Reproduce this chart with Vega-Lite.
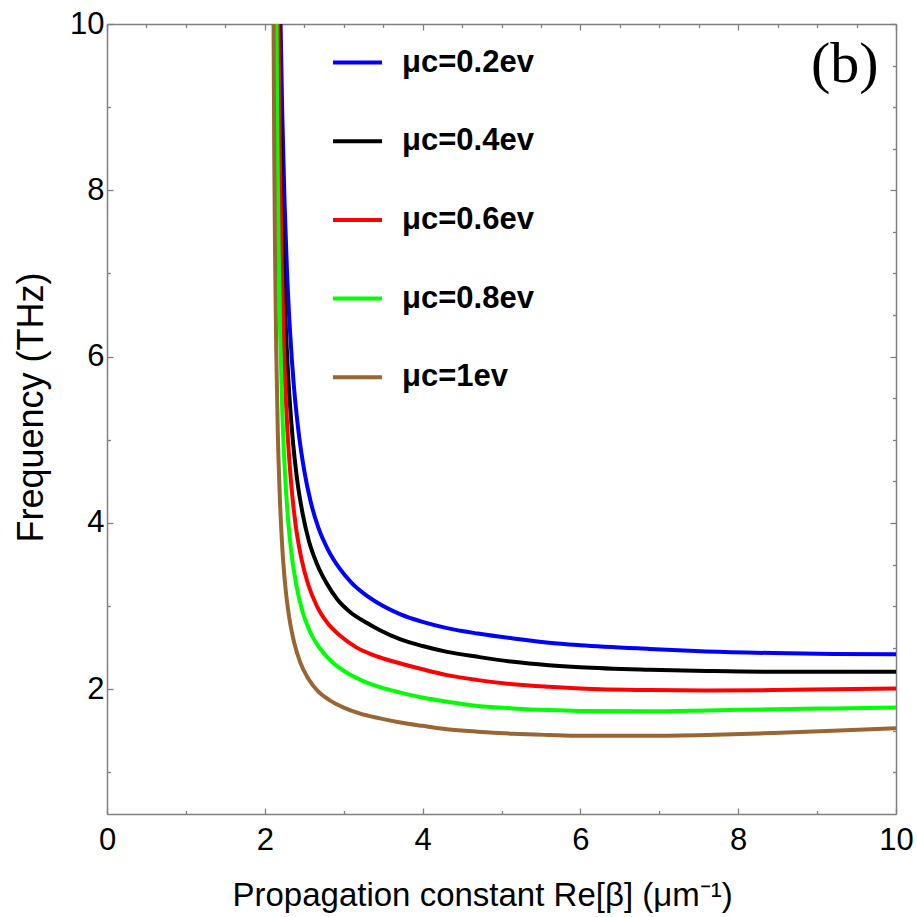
{
  "$schema": "https://vega.github.io/schema/vega-lite/v6.json",
  "width": 789,
  "height": 790,
  "autosize": {"type": "none"},
  "padding": {"left": 107, "top": 24, "right": 21, "bottom": 103},
  "background": "white",
  "config": {
    "view": {"stroke": null},
    "font": "Liberation Sans"
  },
  "datasets": {
    "curves": [
      {"s": "μc=0.2ev", "x": 2.200, "y": 10.0},
      {"s": "μc=0.2ev", "x": 2.220, "y": 8.97},
      {"s": "μc=0.2ev", "x": 2.250, "y": 7.86},
      {"s": "μc=0.2ev", "x": 2.280, "y": 7.06},
      {"s": "μc=0.2ev", "x": 2.320, "y": 6.30},
      {"s": "μc=0.2ev", "x": 2.370, "y": 5.63},
      {"s": "μc=0.2ev", "x": 2.430, "y": 5.08},
      {"s": "μc=0.2ev", "x": 2.500, "y": 4.63},
      {"s": "μc=0.2ev", "x": 2.580, "y": 4.26},
      {"s": "μc=0.2ev", "x": 2.680, "y": 3.94},
      {"s": "μc=0.2ev", "x": 2.800, "y": 3.68},
      {"s": "μc=0.2ev", "x": 2.950, "y": 3.45},
      {"s": "μc=0.2ev", "x": 3.100, "y": 3.28},
      {"s": "μc=0.2ev", "x": 3.300, "y": 3.12},
      {"s": "μc=0.2ev", "x": 3.500, "y": 3.00},
      {"s": "μc=0.2ev", "x": 3.720, "y": 2.90},
      {"s": "μc=0.2ev", "x": 4.000, "y": 2.81},
      {"s": "μc=0.2ev", "x": 4.310, "y": 2.735},
      {"s": "μc=0.2ev", "x": 4.700, "y": 2.67},
      {"s": "μc=0.2ev", "x": 5.150, "y": 2.61},
      {"s": "μc=0.2ev", "x": 5.600, "y": 2.56},
      {"s": "μc=0.2ev", "x": 6.000, "y": 2.53},
      {"s": "μc=0.2ev", "x": 6.880, "y": 2.485},
      {"s": "μc=0.2ev", "x": 7.600, "y": 2.455},
      {"s": "μc=0.2ev", "x": 8.450, "y": 2.435},
      {"s": "μc=0.2ev", "x": 9.200, "y": 2.425},
      {"s": "μc=0.2ev", "x": 10.00, "y": 2.42},

      {"s": "μc=0.4ev", "x": 2.180, "y": 10.0},
      {"s": "μc=0.4ev", "x": 2.200, "y": 8.69},
      {"s": "μc=0.4ev", "x": 2.230, "y": 7.37},
      {"s": "μc=0.4ev", "x": 2.260, "y": 6.50},
      {"s": "μc=0.4ev", "x": 2.300, "y": 5.71},
      {"s": "μc=0.4ev", "x": 2.350, "y": 5.05},
      {"s": "μc=0.4ev", "x": 2.410, "y": 4.52},
      {"s": "μc=0.4ev", "x": 2.480, "y": 4.11},
      {"s": "μc=0.4ev", "x": 2.560, "y": 3.78},
      {"s": "μc=0.4ev", "x": 2.660, "y": 3.51},
      {"s": "μc=0.4ev", "x": 2.780, "y": 3.28},
      {"s": "μc=0.4ev", "x": 2.920, "y": 3.08},
      {"s": "μc=0.4ev", "x": 3.080, "y": 2.93},
      {"s": "μc=0.4ev", "x": 3.290, "y": 2.80},
      {"s": "μc=0.4ev", "x": 3.460, "y": 2.71},
      {"s": "μc=0.4ev", "x": 3.720, "y": 2.60},
      {"s": "μc=0.4ev", "x": 4.000, "y": 2.52},
      {"s": "μc=0.4ev", "x": 4.310, "y": 2.45},
      {"s": "μc=0.4ev", "x": 4.700, "y": 2.39},
      {"s": "μc=0.4ev", "x": 5.150, "y": 2.33},
      {"s": "μc=0.4ev", "x": 5.600, "y": 2.29},
      {"s": "μc=0.4ev", "x": 6.000, "y": 2.265},
      {"s": "μc=0.4ev", "x": 6.880, "y": 2.235},
      {"s": "μc=0.4ev", "x": 7.600, "y": 2.22},
      {"s": "μc=0.4ev", "x": 8.450, "y": 2.21},
      {"s": "μc=0.4ev", "x": 9.200, "y": 2.21},
      {"s": "μc=0.4ev", "x": 10.00, "y": 2.21},

      {"s": "μc=0.6ev", "x": 2.173, "y": 10.0},
      {"s": "μc=0.6ev", "x": 2.190, "y": 8.51},
      {"s": "μc=0.6ev", "x": 2.210, "y": 7.31},
      {"s": "μc=0.6ev", "x": 2.240, "y": 6.16},
      {"s": "μc=0.6ev", "x": 2.280, "y": 5.23},
      {"s": "μc=0.6ev", "x": 2.330, "y": 4.52},
      {"s": "μc=0.6ev", "x": 2.390, "y": 3.98},
      {"s": "μc=0.6ev", "x": 2.460, "y": 3.59},
      {"s": "μc=0.6ev", "x": 2.550, "y": 3.26},
      {"s": "μc=0.6ev", "x": 2.660, "y": 3.00},
      {"s": "μc=0.6ev", "x": 2.800, "y": 2.79},
      {"s": "μc=0.6ev", "x": 2.960, "y": 2.64},
      {"s": "μc=0.6ev", "x": 3.150, "y": 2.51},
      {"s": "μc=0.6ev", "x": 3.350, "y": 2.42},
      {"s": "μc=0.6ev", "x": 3.500, "y": 2.37},
      {"s": "μc=0.6ev", "x": 3.720, "y": 2.31},
      {"s": "μc=0.6ev", "x": 4.000, "y": 2.24},
      {"s": "μc=0.6ev", "x": 4.310, "y": 2.17},
      {"s": "μc=0.6ev", "x": 4.700, "y": 2.11},
      {"s": "μc=0.6ev", "x": 5.150, "y": 2.06},
      {"s": "μc=0.6ev", "x": 5.600, "y": 2.03},
      {"s": "μc=0.6ev", "x": 6.000, "y": 2.01},
      {"s": "μc=0.6ev", "x": 6.880, "y": 1.99},
      {"s": "μc=0.6ev", "x": 7.600, "y": 1.985},
      {"s": "μc=0.6ev", "x": 8.450, "y": 1.99},
      {"s": "μc=0.6ev", "x": 9.200, "y": 2.00},
      {"s": "μc=0.6ev", "x": 10.00, "y": 2.01},

      {"s": "μc=0.8ev", "x": 2.148, "y": 10.0},
      {"s": "μc=0.8ev", "x": 2.160, "y": 8.56},
      {"s": "μc=0.8ev", "x": 2.175, "y": 7.35},
      {"s": "μc=0.8ev", "x": 2.195, "y": 6.27},
      {"s": "μc=0.8ev", "x": 2.220, "y": 5.39},
      {"s": "μc=0.8ev", "x": 2.250, "y": 4.70},
      {"s": "μc=0.8ev", "x": 2.290, "y": 4.10},
      {"s": "μc=0.8ev", "x": 2.340, "y": 3.62},
      {"s": "μc=0.8ev", "x": 2.400, "y": 3.25},
      {"s": "μc=0.8ev", "x": 2.480, "y": 2.93},
      {"s": "μc=0.8ev", "x": 2.580, "y": 2.68},
      {"s": "μc=0.8ev", "x": 2.700, "y": 2.49},
      {"s": "μc=0.8ev", "x": 2.850, "y": 2.33},
      {"s": "μc=0.8ev", "x": 3.020, "y": 2.21},
      {"s": "μc=0.8ev", "x": 3.220, "y": 2.11},
      {"s": "μc=0.8ev", "x": 3.460, "y": 2.025},
      {"s": "μc=0.8ev", "x": 3.720, "y": 1.96},
      {"s": "μc=0.8ev", "x": 4.000, "y": 1.90},
      {"s": "μc=0.8ev", "x": 4.310, "y": 1.85},
      {"s": "μc=0.8ev", "x": 4.700, "y": 1.80},
      {"s": "μc=0.8ev", "x": 5.150, "y": 1.77},
      {"s": "μc=0.8ev", "x": 5.600, "y": 1.75},
      {"s": "μc=0.8ev", "x": 6.000, "y": 1.74},
      {"s": "μc=0.8ev", "x": 6.880, "y": 1.735},
      {"s": "μc=0.8ev", "x": 7.600, "y": 1.745},
      {"s": "μc=0.8ev", "x": 8.450, "y": 1.76},
      {"s": "μc=0.8ev", "x": 9.200, "y": 1.77},
      {"s": "μc=0.8ev", "x": 10.00, "y": 1.78},

      {"s": "μc=1ev", "x": 2.111, "y": 10.0},
      {"s": "μc=1ev", "x": 2.120, "y": 8.40},
      {"s": "μc=1ev", "x": 2.130, "y": 7.23},
      {"s": "μc=1ev", "x": 2.145, "y": 6.07},
      {"s": "μc=1ev", "x": 2.165, "y": 5.08},
      {"s": "μc=1ev", "x": 2.190, "y": 4.32},
      {"s": "μc=1ev", "x": 2.220, "y": 3.73},
      {"s": "μc=1ev", "x": 2.260, "y": 3.24},
      {"s": "μc=1ev", "x": 2.310, "y": 2.86},
      {"s": "μc=1ev", "x": 2.370, "y": 2.57},
      {"s": "μc=1ev", "x": 2.450, "y": 2.32},
      {"s": "μc=1ev", "x": 2.550, "y": 2.13},
      {"s": "μc=1ev", "x": 2.670, "y": 1.98},
      {"s": "μc=1ev", "x": 2.820, "y": 1.87},
      {"s": "μc=1ev", "x": 3.000, "y": 1.78},
      {"s": "μc=1ev", "x": 3.200, "y": 1.71},
      {"s": "μc=1ev", "x": 3.460, "y": 1.65},
      {"s": "μc=1ev", "x": 3.720, "y": 1.60},
      {"s": "μc=1ev", "x": 4.000, "y": 1.56},
      {"s": "μc=1ev", "x": 4.310, "y": 1.52},
      {"s": "μc=1ev", "x": 4.700, "y": 1.49},
      {"s": "μc=1ev", "x": 5.150, "y": 1.465},
      {"s": "μc=1ev", "x": 5.600, "y": 1.45},
      {"s": "μc=1ev", "x": 6.000, "y": 1.44},
      {"s": "μc=1ev", "x": 6.880, "y": 1.44},
      {"s": "μc=1ev", "x": 7.600, "y": 1.45},
      {"s": "μc=1ev", "x": 8.450, "y": 1.475},
      {"s": "μc=1ev", "x": 9.200, "y": 1.50},
      {"s": "μc=1ev", "x": 10.00, "y": 1.53}
    ],
    "panel": [{"label": "(b)"}]
  },
  "layer": [
    {
      "data": {"name": "curves"},
      "mark": {"type": "line", "strokeWidth": 4, "interpolate": "monotone", "clip": true},
      "encoding": {
        "x": {
          "field": "x", "type": "quantitative",
          "scale": {"domain": [0, 10], "nice": false, "zero": false},
          "axis": {
            "orient": "bottom",
            "title": "Propagation constant Re[β] (μm⁻¹)",
            "titleFont": "Liberation Sans", "titleFontSize": 33, "titleFontWeight": "normal", "titleColor": "#000000",
            "titleAnchor": "start", "titleAlign": "left", "titleX": 125,
            "titlePadding": 22,
            "values": [0, 0.5, 1, 1.5, 2, 2.5, 3, 3.5, 4, 4.5, 5, 5.5, 6, 6.5, 7, 7.5, 8, 8.5, 9, 9.5, 10],
            "format": "d",
            "labelExpr": "datum.value % 2 == 0 ? datum.label : ''",
            "labelFont": "Liberation Sans", "labelFontSize": 31, "labelColor": "#000000",
            "labelPadding": 17, "labelOverlap": false, "labelFlush": false,
            "tickSize": {"condition": {"test": "datum.value % 2 == 0", "value": -6}, "value": -3.5},
            "tickColor": "#808080", "tickWidth": 1.3,
            "domainColor": "#808080", "domainWidth": 1.5,
            "grid": false
          }
        },
        "y": {
          "field": "y", "type": "quantitative",
          "scale": {"domain": [0.5, 10], "nice": false, "zero": false},
          "axis": {
            "orient": "left",
            "title": "Frequency (THz)",
            "titleFont": "Liberation Sans", "titleFontSize": 36, "titleFontWeight": "normal", "titleColor": "#000000",
            "titleY": 383,
            "titlePadding": 19,
            "values": [1, 1.5, 2, 2.5, 3, 3.5, 4, 4.5, 5, 5.5, 6, 6.5, 7, 7.5, 8, 8.5, 9, 9.5, 10],
            "format": "d",
            "labelExpr": "datum.value % 2 == 0 ? datum.label : ''",
            "labelFont": "Liberation Sans", "labelFontSize": 31, "labelColor": "#000000",
            "labelPadding": 9, "labelOverlap": false, "labelFlush": false,
            "tickSize": {"condition": {"test": "datum.value % 2 == 0", "value": -6}, "value": -3.5},
            "tickColor": "#808080", "tickWidth": 1.3,
            "domainColor": "#808080", "domainWidth": 1.5,
            "grid": false
          }
        },
        "color": {
          "field": "s", "type": "nominal",
          "scale": {
            "domain": ["μc=0.2ev", "μc=0.4ev", "μc=0.6ev", "μc=0.8ev", "μc=1ev"],
            "range": ["#0000ff", "#000000", "#ff0000", "#00ff00", "#996633"]
          },
          "legend": {
            "orient": "none",
            "legendX": 224,
            "legendY": 12,
            "title": null,
            "symbolType": "stroke",
            "symbolSize": 2401,
            "symbolStrokeWidth": 4,
            "labelFont": "Liberation Sans",
            "labelFontSize": 31,
            "labelFontWeight": "bold",
            "labelColor": "#000000",
            "labelOffset": 18,
            "rowPadding": 36.7,
            "labelLimit": 400
          }
        }
      }
    },
    {
      "data": {"name": "panel"},
      "mark": {"type": "text", "font": "Liberation Serif", "fontSize": 58, "align": "center", "baseline": "middle", "color": "#000000"},
      "encoding": {
        "x": {
          "datum": 9.35, "type": "quantitative",
          "axis": {
            "orient": "top", "title": null, "labels": false,
            "values": [0, 0.5, 1, 1.5, 2, 2.5, 3, 3.5, 4, 4.5, 5, 5.5, 6, 6.5, 7, 7.5, 8, 8.5, 9, 9.5, 10],
            "tickSize": {"condition": {"test": "datum.value % 2 == 0", "value": -6}, "value": -3.5},
            "tickColor": "#808080", "tickWidth": 1.3,
            "domainColor": "#808080", "domainWidth": 1.5, "grid": false
          }
        },
        "y": {
          "datum": 9.51, "type": "quantitative",
          "axis": {
            "orient": "right", "title": null, "labels": false,
            "values": [1, 1.5, 2, 2.5, 3, 3.5, 4, 4.5, 5, 5.5, 6, 6.5, 7, 7.5, 8, 8.5, 9, 9.5, 10],
            "tickSize": {"condition": {"test": "datum.value % 2 == 0", "value": -6}, "value": -3.5},
            "tickColor": "#808080", "tickWidth": 1.3,
            "domainColor": "#808080", "domainWidth": 1.5, "grid": false
          }
        },
        "text": {"field": "label"}
      }
    }
  ],
  "resolve": {"axis": {"x": "independent", "y": "independent"}}
}
